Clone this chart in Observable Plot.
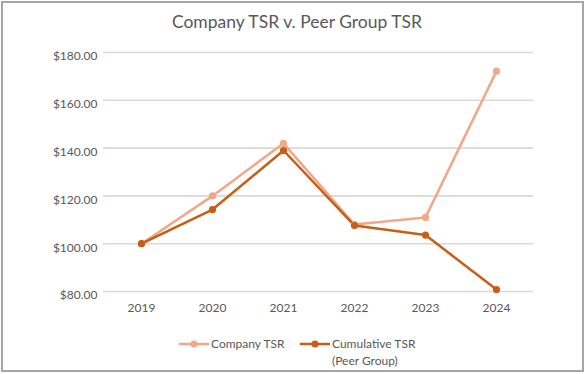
<!DOCTYPE html>
<html>
<head>
<meta charset="utf-8">
<script src="https://cdn.jsdelivr.net/npm/d3@7"></script>
<script src="https://cdn.jsdelivr.net/npm/@observablehq/plot@0.6"></script>
<style>
  html, body { margin: 0; padding: 0; background: #fff; }
  #frame { position: relative; width: 584px; height: 374px; overflow: hidden; font-family: Lato, "Noto Sans", sans-serif; color: #595959; }
  #border { position: absolute; left: 1px; top: 1px; width: 583px; height: 371px; box-sizing: border-box; border: 2px solid #a6a6a6; }
  #title { position: absolute; left: 0; width: 594px; top: 11px; text-align: center; font-size: 17.5px; white-space: nowrap; }
  #chart { position: absolute; left: 0; top: 40px; }
  .leg { position: absolute; font-size: 12px; line-height: 16.5px; white-space: nowrap; }
  .sw { position: absolute; }
</style>
</head>
<body>
<div id="frame">
  <div id="border"></div>
  <div id="title">Company TSR v. Peer Group TSR</div>
  <div id="chart"></div>
  <svg class="sw" style="left:178px;top:338px" width="32" height="12"></svg>
  <div class="leg" style="left:211px;top:336px">Company TSR</div>
  <svg class="sw" style="left:299px;top:338px" width="32" height="12"></svg>
  <div class="leg" style="left:332px;top:336px">Cumulative TSR<br>(Peer Group)</div>
</div>
<script>
const years = ["2019", "2020", "2021", "2022", "2023", "2024"];
const companyTSR = [100, 120, 142, 108, 111, 172.2];
const peerTSR = [100, 114.3, 139, 107.6, 103.6, 80.8];
const seriesNames = ["Company TSR", "Cumulative TSR (Peer Group)"];
const seriesColors = ["#F0A888", "#C75E15"];
const yTicks = [80, 100, 120, 140, 160, 180];

const data = [];
years.forEach((y, i) => {
  data.push({year: y, value: companyTSR[i], series: seriesNames[0]});
});
years.forEach((y, i) => {
  data.push({year: y, value: peerTSR[i], series: seriesNames[1]});
});

const chart = Plot.plot({
  width: 584,
  height: 280,
  marginLeft: 103,
  marginRight: 51,
  marginTop: 12,
  marginBottom: 29,
  style: {fontFamily: "Lato, 'Noto Sans', sans-serif", fontSize: "12px", color: "#595959", background: "transparent", overflow: "visible"},
  x: {type: "point", domain: years, padding: 0.5, label: null},
  y: {domain: [80, 180], label: null},
  color: {domain: seriesNames, range: seriesColors},
  marks: [
    Plot.gridY(yTicks, {stroke: "#d9d9d9", strokeOpacity: 1, strokeWidth: 1.6}),
    Plot.axisY(yTicks, {tickSize: 0, tickPadding: 6, dy: 4, tickFormat: d => "$" + d.toFixed(2), fill: "#595959", fontSize: 12}),
    Plot.axisX({tickSize: 0, tickPadding: 12, fill: "#595959", fontSize: 12}),
    Plot.line(data, {x: "year", y: "value", z: "series", stroke: "series", strokeWidth: 2.5}),
    Plot.dot(data, {x: "year", y: "value", fill: "series", r: 3.6})
  ]
});
document.getElementById("chart").appendChild(chart);

// legend swatches
const sws = document.querySelectorAll("svg.sw");
sws.forEach((s, i) => {
  const sel = d3.select(s);
  sel.append("line").attr("x1", 1).attr("x2", 31).attr("y1", 6).attr("y2", 6)
    .attr("stroke", seriesColors[i]).attr("stroke-width", 2.5);
  sel.append("circle").attr("cx", 16).attr("cy", 6).attr("r", 3.6).attr("fill", seriesColors[i]);
});
</script>
</body>
</html>
